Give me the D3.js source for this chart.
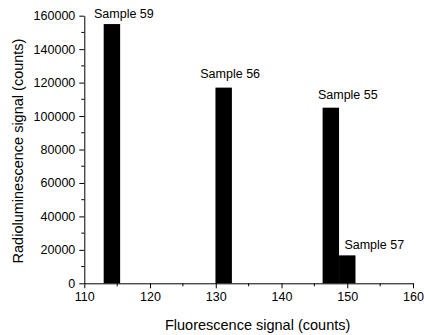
<!DOCTYPE html>
<html>
<head>
<meta charset="utf-8">
<script src="https://cdn.jsdelivr.net/npm/d3@7"></script>
<style>
  html, body { margin: 0; padding: 0; background: #fff; }
  svg { display: block; }
  text { font-family: "Liberation Sans", Arial, sans-serif; fill: #000; }
</style>
</head>
<body>
<svg id="chart" width="424" height="335"></svg>
<script>
// Data
const samples = ["Sample 59", "Sample 56", "Sample 55", "Sample 57"];
const fluorescence = [114.2, 131.2, 147.5, 150.0];   // bar centres (counts)
const radiolum = [155000, 117000, 105000, 16700];    // bar heights (counts)
const binWidth = 2.5;
const xTicks = [110, 120, 130, 140, 150, 160];
const yTicks = [0, 20000, 40000, 60000, 80000, 100000, 120000, 140000, 160000];
const xMinor = [115, 125, 135, 145, 155];
const yMinor = [10000, 30000, 50000, 70000, 90000, 110000, 130000, 150000];

const svg = d3.select("#chart");
const x = d3.scaleLinear().domain([110, 160]).range([84.3, 413]);
const y = d3.scaleLinear().domain([0, 160000]).range([283.3, 15.7]);

// Bars
svg.append("g").selectAll("rect").data(fluorescence).join("rect")
  .attr("x", d => x(d - binWidth / 2))
  .attr("width", d => x(d + binWidth / 2) - x(d - binWidth / 2))
  .attr("y", (d, i) => y(radiolum[i]))
  .attr("height", (d, i) => y(0) - y(radiolum[i]))
  .attr("fill", "#000");

// Axes
const xAxis = svg.append("g").attr("transform", `translate(0,${y(0)})`)
  .call(d3.axisBottom(x).tickValues(xTicks).tickFormat(d3.format("d")).tickSize(5).tickSizeOuter(0).tickPadding(4));
xAxis.selectAll("text").attr("font-size", "12.5px").attr("font-family", "Liberation Sans, Arial, sans-serif");
xAxis.append("g").selectAll("line").data(xMinor).join("line")
  .attr("x1", d => x(d)).attr("x2", d => x(d)).attr("y1", 0).attr("y2", 3).attr("stroke", "#000");

const yAxis = svg.append("g").attr("transform", `translate(${x(110)},0)`)
  .call(d3.axisLeft(y).tickValues(yTicks).tickFormat(d3.format("d")).tickSize(5).tickSizeOuter(0).tickPadding(4));
yAxis.selectAll("text").attr("font-size", "12.5px").attr("font-family", "Liberation Sans, Arial, sans-serif");
yAxis.append("g").selectAll("line").data(yMinor).join("line")
  .attr("y1", d => y(d)).attr("y2", d => y(d)).attr("x1", 0).attr("x2", -3).attr("stroke", "#000");

// Bar labels (pixel offsets from the bar centre / top)
const labelDx = [12, 6.5, 17, 27];
const labelDy = [-6, -10, -9, -6];
svg.append("g").selectAll("text").data(samples).join("text")
  .attr("x", (d, i) => x(fluorescence[i]) + labelDx[i])
  .attr("y", (d, i) => y(radiolum[i]) + labelDy[i])
  .attr("text-anchor", "middle")
  .attr("font-size", "12.5px")
  .text(d => d);

// Axis titles
svg.append("text")
  .attr("x", (x(110) + x(160)) / 2 + 9)
  .attr("y", 330)
  .attr("text-anchor", "middle")
  .attr("font-size", "14.5px")
  .text("Fluorescence signal (counts)");

svg.append("text")
  .attr("transform", `translate(22.5,${151}) rotate(-90)`)
  .attr("text-anchor", "middle")
  .attr("font-size", "14.5px")
  .text("Radioluminescence signal (counts)");
</script>
</body>
</html>
